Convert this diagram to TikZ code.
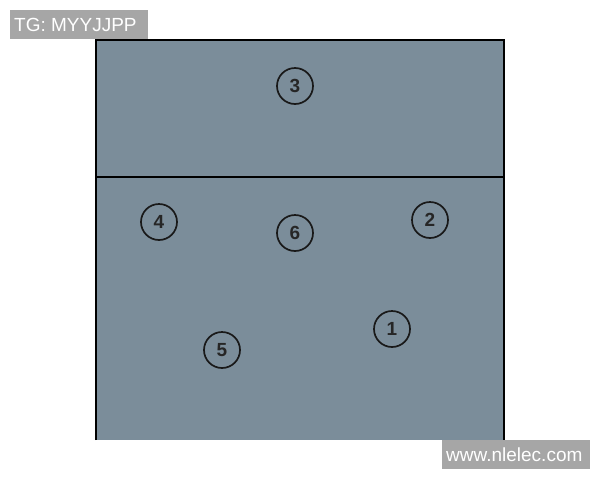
\documentclass[tikz,border=0pt]{standalone}
\usepackage{fontspec}
\setmainfont{Liberation Sans}
\begin{document}
\begin{tikzpicture}[x=1pt,y=-1pt,
  player/.style={circle,draw=black!90,line width=1.7pt,minimum size=36pt,inner sep=0pt,font=\fontsize{19}{19}\selectfont\bfseries,text=black!85},
  tag/.style={fill=taggray,text=white,inner sep=0pt,font=\fontsize{19}{19}\selectfont}]
\definecolor{courtcol}{RGB}{123,141,154}
\definecolor{taggray}{RGB}{166,166,166}
\useasboundingbox (0,0) rectangle (600,480);
\fill[white] (0,0) rectangle (600,480);
\fill[courtcol] (96,40) rectangle (504,440);
\draw[line width=1.2pt] (96,440) -- (96,40) -- (504,40) -- (504,440);
\coordinate (netL) at (96,177);
\coordinate (netR) at (504,177);
\draw[line width=1.2pt] (netL) -- (netR);
\node[player] (p3) at (295,86) {3};
\node[player] (p4) at (159,222) {4};
\node[player] (p6) at (295,233) {6};
\node[player] (p2) at (430,220) {2};
\node[player] (p1) at (392,329) {1};
\node[player] (p5) at (222,350) {5};
\fill[taggray] (10,10) rectangle (148,39);
\node[tag,anchor=west] (tg) at (14,25) {TG: MYYJJPP};
\fill[taggray] (442,440) rectangle (590,469);
\node[tag,anchor=west] (www) at (446,455) {www.nlelec.com};
\end{tikzpicture}
\end{document}
